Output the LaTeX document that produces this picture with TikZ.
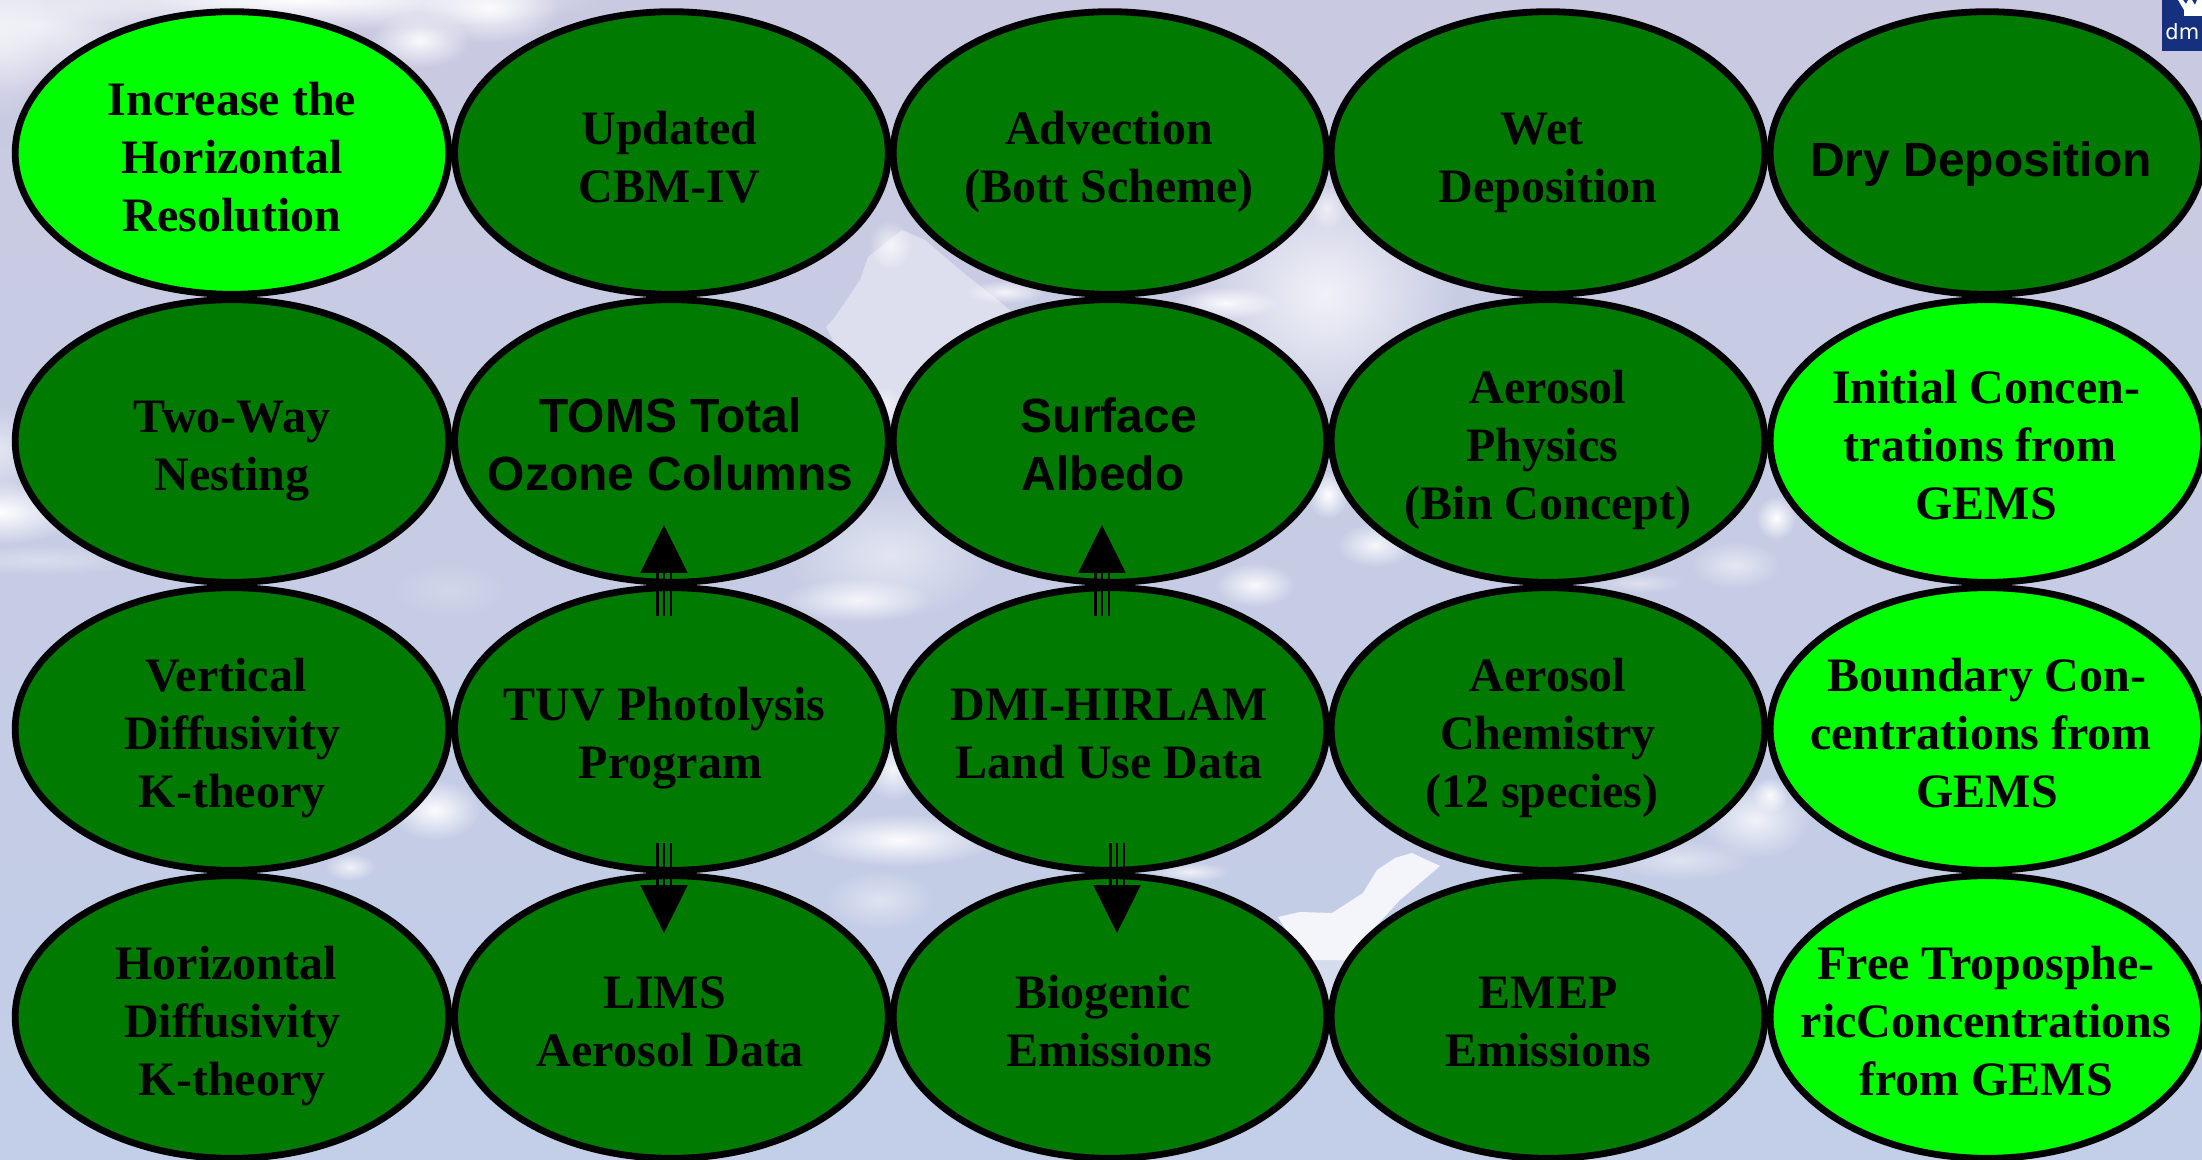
\documentclass[tikz,border=0pt]{standalone}
\usepackage{fontspec}
\setmainfont{Liberation Serif}
\setsansfont{Liberation Sans}
\newfontfamily\logofont{DejaVu Sans}
\usetikzlibrary{shapes.geometric,arrows.meta,fadings}
\tikzfading[name=blobfade,inner color=transparent!0,outer color=transparent!100]
\definecolor{bgtop}{HTML}{C9CAE1}
\definecolor{bgbot}{HTML}{C3CEE8}
\definecolor{darkg}{HTML}{007A00}
\definecolor{lightg}{HTML}{00FF00}
\definecolor{dmiblue}{HTML}{14307F}
\tikzset{
  x=0.5pt,y=-0.5pt,
  bubble/.style={ellipse,draw=black,line width=3.4pt,minimum width=216.8pt,minimum height=141.3pt,inner sep=0pt},
  dark/.style={bubble,fill=darkg},
  light/.style={bubble,fill=lightg},
  txt/.style={inner sep=0pt,align=center,text=black,font=\fontsize{24}{29}\selectfont\bfseries,
    execute at begin node=\strut,execute at end node=\strut},
  sanslabel/.style={font=\fontsize{24}{29}\selectfont\sffamily\bfseries,yshift=0.7pt},
  shaftline/.style={draw=black,line width=1.3pt},
  headline/.style={shaftline,-{Triangle[length=24pt,width=23.5pt]}},
  sideline/.style={shaftline,shorten >=23.5pt},
}
\newcommand{\blob}[5]{\fill[white,opacity=#5,path fading=blobfade] (#1,#2) ellipse [x radius=#3,y radius=#4];}
\newcommand{\lf}[1]{\mbox{#1\kern6pt}}
\newcommand{\lab}[4][]{\node[txt,#1] (#2t) at ([shift={(#3,13)}]#2.center) {#4};}
\newcommand{\triarrow}[2]{%
  \draw[sideline,transform canvas={xshift=-3.4pt}] (#1) -- (#2);
  \draw[sideline,transform canvas={xshift=3.4pt}] (#1) -- (#2);
  \draw[headline] (#1) -- (#2);}
\begin{document}
\begin{tikzpicture}
\useasboundingbox (0,0) rectangle (2202,1160);
% sky
\shade[top color=bgtop,bottom color=bgbot] (0,0) rectangle (2202,1160);
% top-left
\blob{300}{0}{300}{30}{1}
\blob{490}{8}{70}{35}{.9}
\blob{420}{40}{50}{28}{.9}
\blob{40}{25}{130}{70}{.7}
\blob{0}{30}{50}{90}{.5}
% left edge
\blob{0}{512}{80}{32}{1}
\blob{0}{450}{40}{45}{.5}
\blob{40}{560}{110}{15}{.35}
% gap (890,297): cloud with crisp left edge
\fill[white,opacity=.4] (902,230) -- (868,257) -- (860,280) -- (835,317) -- (826,327) -- (880,430) -- (1010,310) -- (960,270) -- (925,240) -- cycle;
\blob{890}{245}{22}{25}{.7}
\blob{1005}{292}{40}{12}{.8}
\blob{885}{405}{18}{18}{.6}
% gap (1330,297)
\blob{1325}{295}{135}{125}{.75}
\blob{1225}{303}{55}{16}{.9}
\blob{1327}{208}{18}{22}{.6}
% gap (1330,585)
\blob{1328}{495}{20}{24}{1}
\blob{1375}{545}{38}{22}{.85}
\blob{1255}{585}{40}{22}{.9}
% gap (1770,585)
\blob{1776}{518}{20}{22}{1}
\blob{1735}{565}{45}{24}{.55}
\blob{1640}{583}{45}{10}{.4}
% gap (450,585)
\blob{450}{590}{60}{28}{.2}
% gap (890,585) and the one under it
\blob{890}{555}{105}{65}{.5}
\blob{857}{600}{75}{22}{.8}
\blob{893}{770}{28}{30}{.8}
\blob{900}{840}{95}{26}{.95}
\blob{880}{900}{55}{30}{.45}
% gap (450,873)
\blob{435}{810}{45}{30}{.95}
\blob{350}{867}{25}{14}{.75}
% gap (1330,873): hard-edged cloud
\fill[white,opacity=.82] (1412,853) -- (1395,858) -- (1377,870) -- (1363,893) -- (1332,913) -- (1300,912) -- (1278,917) -- (1305,960) -- (1345,960) -- (1400,900) -- (1440,866) -- cycle;
\fill[white,opacity=.3] (1345,960) -- (1305,960) -- (1330,1010) -- cycle;
\blob{1190}{872}{40}{10}{.7}
% gap (1770,873)
\blob{1755}{820}{55}{38}{.75}
\blob{1680}{860}{70}{20}{.45}
\blob{1770}{795}{18}{18}{.9}
% logo
\fill[dmiblue] (2162,0) rectangle (2202,51);
\fill[white] (2178,0) -- (2184,10) -- (2184,16) -- (2202,16) -- (2202,0) -- (2197,0) -- (2195,5) -- (2192,0) -- (2188,0) -- (2186,4) -- (2183,0) -- cycle;
\node[text=white,font=\fontsize{10.5}{10.5}\selectfont\logofont,anchor=base west,inner sep=0pt] (logo) at (2165,40) {dm};
% bubbles
\node[light] (a1) at (232,153) {};
\node[dark] (a2) at (671.5,153) {};
\node[dark] (a3) at (1110,153) {};
\node[dark] (a4) at (1548,153) {};
\node[dark] (a5) at (1987,153) {};
\node[dark] (b1) at (232,441) {};
\node[dark] (b2) at (671.5,441) {};
\node[dark] (b3) at (1110,441) {};
\node[dark] (b4) at (1548,441) {};
\node[light] (b5) at (1987,441) {};
\node[dark] (c1) at (232,729) {};
\node[dark] (c2) at (671.5,729) {};
\node[dark] (c3) at (1110,729) {};
\node[dark] (c4) at (1548,729) {};
\node[light] (c5) at (1987,729) {};
\node[dark] (d1) at (232,1017) {};
\node[dark] (d2) at (671.5,1017) {};
\node[dark] (d3) at (1110,1017) {};
\node[dark] (d4) at (1548,1017) {};
\node[light] (d5) at (1987,1017) {};
% texts
\lab{a1}{0}{Increase the\\Horizontal\\Resolution}
\lab{a2}{-2}{Updated\\CBM-IV}
\lab{a3}{-1}{Advection\\(Bott Scheme)}
\lab{a4}{0}{\lf{Wet}\\Deposition}
\lab[sanslabel]{a5}{-6}{Dry Deposition}
\lab{b1}{0}{Two-Way\\Nesting}
\lab[sanslabel]{b2}{-1}{TOMS Total\\Ozone Columns}
\lab[sanslabel]{b3}{-1}{Surface\\\lf{Albedo}}
\lab{b4}{0}{Aerosol\\\lf{Physics}\\(Bin Concept)}
\lab{b5}{-1}{Initial Concen-\\\lf{trations from}\\GEMS}
\lab{c1}{0}{\lf{Vertical}\\Diffusivity\\K-theory}
\lab{c2}{-1}{\lf{TUV Photolysis}\\Program}
\lab{c3}{-1}{DMI-HIRLAM\\Land Use Data}
\lab{c4}{0}{Aerosol\\Chemistry\\\lf{(12 species)}}
\lab{c5}{0}{Boundary Con-\\\lf{centrations from}\\GEMS}
\lab{d1}{0}{\lf{Horizontal}\\Diffusivity\\K-theory}
\lab{d2}{-1}{\lf{LIMS}\\Aerosol Data}
\lab{d3}{-1}{\lf{Biogenic}\\Emissions}
\lab{d4}{0}{EMEP\\Emissions}
\lab{d5}{-1}{Free Troposphe-\\ricConcentrations\\from GEMS}
% connector ends
\coordinate (c2up) at ([shift={(-7.5,-113)}]c2.center);
\coordinate (b2in) at ([shift={(-7.5,84)}]b2.center);
\coordinate (c3up) at ([shift={(-8,-113)}]c3.center);
\coordinate (b3in) at ([shift={(-8,84)}]b3.center);
\coordinate (c2dn) at ([shift={(-7.5,114)}]c2.center);
\coordinate (d2in) at ([shift={(-7.5,-84)}]d2.center);
\coordinate (c3dn) at ([shift={(7,114)}]c3.center);
\coordinate (d3in) at ([shift={(7,-84)}]d3.center);
\triarrow{c2up}{b2in}
\triarrow{c3up}{b3in}
\triarrow{c2dn}{d2in}
\triarrow{c3dn}{d3in}
\end{tikzpicture}
\end{document}
